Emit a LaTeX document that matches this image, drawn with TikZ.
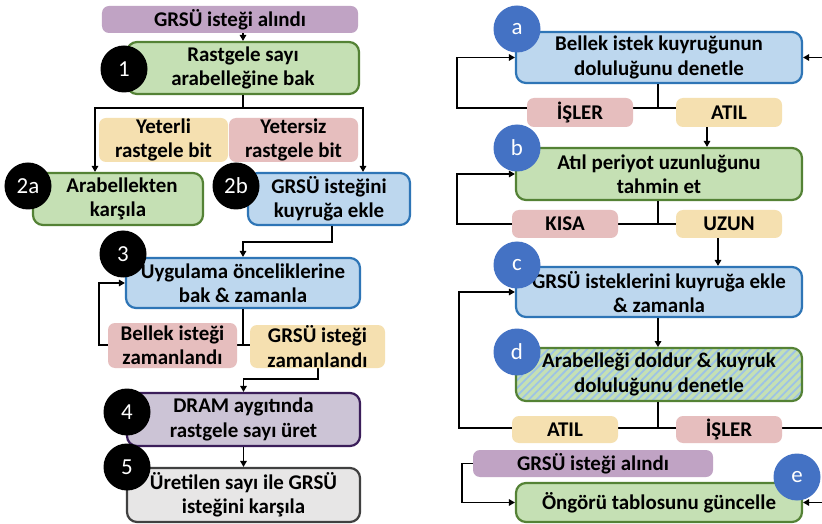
\documentclass[tikz,border=0pt]{standalone}
\usepackage{fontspec}
\setmainfont{Carlito}
\usetikzlibrary{arrows.meta,patterns.meta,calc}
\definecolor{gfill}{HTML}{C5E0B4}
\definecolor{gline}{HTML}{548235}
\definecolor{bfill}{HTML}{BDD7EE}
\definecolor{bline}{HTML}{2E75B6}
\definecolor{pfill}{HTML}{C0A3C4}
\definecolor{yfill}{HTML}{F5E0B0}
\definecolor{rfill}{HTML}{E6BEBE}
\definecolor{vfill}{HTML}{CCC4D6}
\definecolor{vline}{HTML}{3B1E5A}
\definecolor{kfill}{HTML}{E7E6E6}
\definecolor{kline}{HTML}{404040}
\definecolor{cblue}{HTML}{4472C4}
\definecolor{hatch}{HTML}{9DC3E6}
\begin{document}
\begin{tikzpicture}[x=1bp,y=-1bp,
  txt/.style={font=\bfseries\fontsize{21}{24.5}\selectfont},
  box/.style={txt, draw, line width=2.2bp, rounded corners=10bp, align=center, inner sep=0pt},
  gbox/.style={box, fill=gfill, draw=gline},
  bbox/.style={box, fill=bfill, draw=bline},
  lbl/.style={txt, rounded corners=7bp, align=center, inner sep=0pt},
  ylbl/.style={lbl, fill=yfill},
  rlbl/.style={lbl, fill=rfill},
  plbl/.style={lbl, fill=pfill},
  num/.style={circle, fill=black, text=white, minimum size=47bp, inner sep=0pt, font=\fontsize{23}{23}\selectfont},
  letc/.style={num, fill=cblue},
  ln/.style={line width=1.7bp},
  arr/.style={ln, -{Triangle[length=6bp,width=6.5bp]}}
]
\useasboundingbox[fill=white] (0,0) rectangle (822,524);

% ---------------- left column ----------------
\node[plbl, minimum width=256bp, minimum height=27bp] (t0) at (230,19.5) {GRSÜ isteği alındı};
\node[gbox, minimum width=232bp, minimum height=52bp] (n1) at (243,68) {Rastgele sayı\\arabelleğine bak};
\node[gbox, minimum width=170bp, minimum height=52bp] (n2a) at (118,199) {\hspace*{8bp}Arabellekten\\karşıla};
\node[bbox, minimum width=162bp, minimum height=52bp] (n2b) at (329,199) {GRSÜ isteğini\\kuyruğa ekle};
\node[bbox, minimum width=234bp, minimum height=50bp] (n3) at (243,283) {Uygulama önceliklerine\\bak \& zamanla};
\node[box, fill=vfill, draw=vline, minimum width=233bp, minimum height=53bp] (n4) at (243.5,419.5) {DRAM aygıtında\\rastgele sayı üret};
\node[box, fill=kfill, draw=kline, minimum width=233bp, minimum height=54bp] (n5) at (243.5,495) {Üretilen sayı ile GRSÜ\\isteğini karşıla};

\coordinate (j1) at (243,108);
\coordinate (xL) at (95,0);
\coordinate (xR) at (363,0);
\coordinate (j2) at (332,242);
\coordinate (j3) at (243,345);
\coordinate (k3) at (318,379);

\draw[arr] (t0.south -| n1.north) -- (n1.north);
\draw[ln] (n1.south) -- (j1);
\draw[arr] (j1) -| (xL |- n2a.north);
\draw[arr] (j1) -| (xR |- n2b.north);
\draw[arr] (n2b.south -| j2) -- (j2) -| (n3.north);
\draw[ln] (n3.south) -- (j3);
\draw[arr] (j3) -| ($(n3.west)+(-26,0)$) -- (n3.west);
\draw[arr] (j3) -| (k3) -| (n4.north);
\draw[arr] (n4.south) -- (n5.north);

\node[ylbl, minimum width=129bp, minimum height=44bp] (ly1) at (163.5,140) {Yeterli\\rastgele bit};
\node[rlbl, minimum width=129bp, minimum height=44bp] (lr1) at (293.5,140) {Yetersiz\\rastgele bit};
\node[rlbl, minimum width=129bp, minimum height=45bp] (lr3) at (172.5,345.5) {Bellek isteği\\zamanlandı};
\node[ylbl, minimum width=135bp, minimum height=43bp] (ly3) at (317.5,346.5) {GRSÜ isteği\\zamanlandı};

\node[num] (c1) at (124,69) {1};
\node[num] (c2a) at (28,186) {2a};
\node[num] (c2b) at (236,186) {2b};
\node[num] (c3) at (123,254) {3};
\node[num] (c4) at (127,412) {4};
\node[num] (c5) at (127,467) {5};

% ---------------- right column ----------------
\node[bbox, minimum width=286bp, minimum height=51bp] (a) at (659,57.5) {Bellek istek kuyruğunun\\doluluğunu denetle};
\node[gbox, minimum width=286bp, minimum height=52bp] (b) at (659,174) {Atıl periyot uzunluğunu\\tahmin et};
\node[bbox, minimum width=286bp, minimum height=50bp] (c) at (659,292) {GRSÜ isteklerini kuyruğa ekle\\\& zamanla};
\node[box, draw=gline, preaction={fill=gfill},
  pattern={Lines[angle=45,distance=5.5bp,line width=1.8bp]}, pattern color=hatch,
  minimum width=286bp, minimum height=53bp]
  (d) at (659,374.5) {Arabelleği doldur \& kuyruk\\doluluğunu denetle};
\node[gbox, minimum width=286bp, minimum height=39bp] (e) at (659,502.5) {Öngörü tablosunu güncelle};

\coordinate (ja) at (658,108);
\coordinate (jb) at (658,224);
\coordinate (jd) at (658,428);
\coordinate (rx) at (840,0);
\coordinate (xa) at (707,0);
\coordinate (xc) at (718,0);

\draw[ln] (a.south -| ja) -- (ja);
\draw[arr] (ja) -| ($(a.west)+(-58,0)$) -- (a.west);
\draw[ln] (ja) -- (729,108);
\draw[arr] (xa |- 729,127) -- (xa |- b.north);

\draw[ln] (b.south -| jb) -- (jb);
\draw[arr] (jb) -| ($(b.west)+(-58,0)$) -- (b.west);
\draw[ln] (jb) -- (729,224);
\draw[arr] (xc |- 729,238) -- (xc |- c.north);

\draw[arr] (c.south -| jd) -- (d.north -| jd);
\draw[ln] (d.south -| jd) -- (jd);
\draw[arr] (jd) -| ($(c.west)+(-56,0)$) -- (c.west);
\draw[arr] (jd) -| (rx |- a.east) -- (a.east);
\draw[arr] (rx |- jd) |- (e.east);

\node[rlbl, minimum width=106bp, minimum height=29bp] (isl1) at (580,112.5) {İŞLER};
\node[ylbl, minimum width=106bp, minimum height=29bp] (atil1) at (729,112.5) {ATIL};
\node[rlbl, minimum width=106bp, minimum height=28bp] (kisa) at (565,224) {KISA};
\node[ylbl, minimum width=106bp, minimum height=28bp] (uzun) at (729,224) {UZUN};
\node[ylbl, minimum width=106bp, minimum height=27bp] (atil2) at (565,429.5) {ATIL};
\node[rlbl, minimum width=106bp, minimum height=27bp] (isl2) at (729,429.5) {İŞLER};
\node[plbl, minimum width=240bp, minimum height=27bp] (g2) at (593,463.5) {GRSÜ isteği alındı};
\draw[arr] (g2.west) -| ($(e.west)+(-53,0)$) -- (e.west);

\node[letc] (ca) at (517,29) {a};
\node[letc] (cb) at (517,148) {b};
\node[letc] (cc) at (517,265) {c};
\node[letc] (cd) at (517,352) {d};
\node[letc] (ce) at (797,477) {e};
\end{tikzpicture}
\end{document}
